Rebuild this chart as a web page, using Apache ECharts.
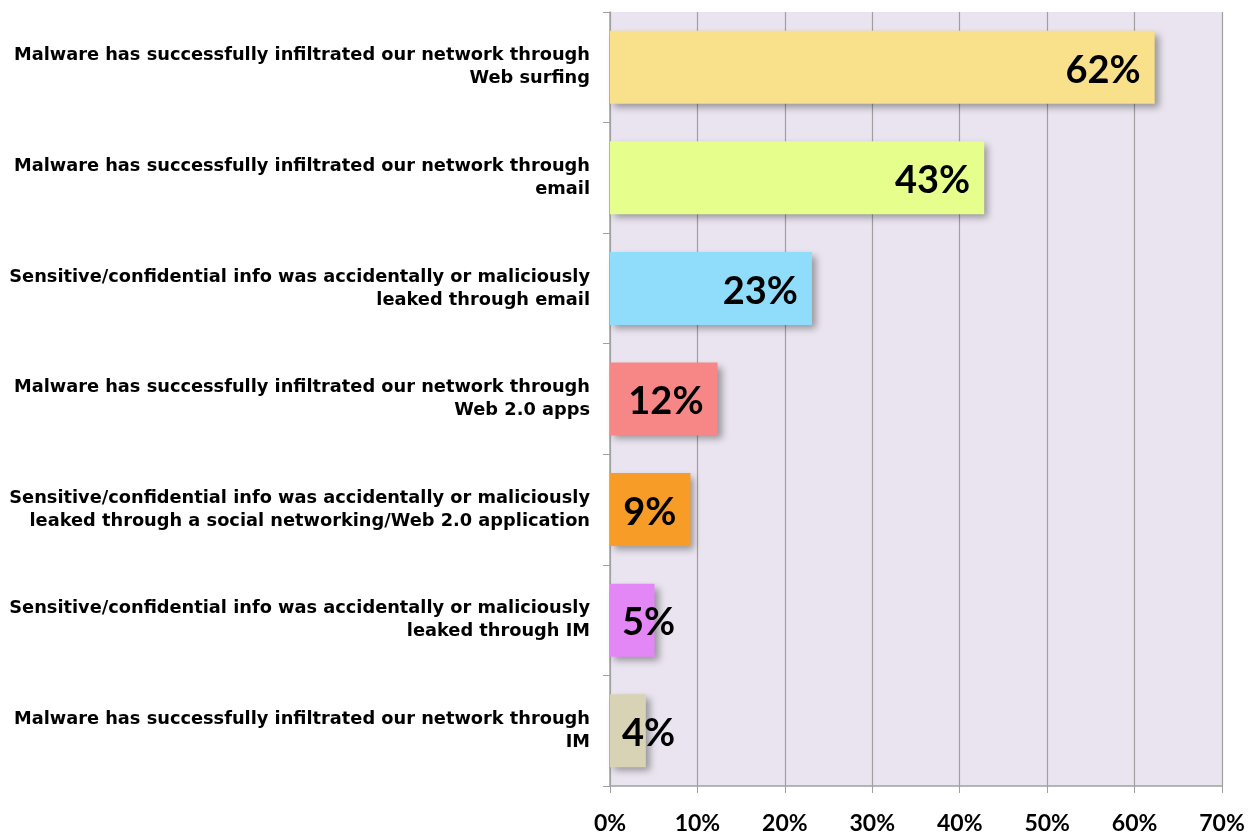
<!DOCTYPE html>
<html><head><meta charset="utf-8">
<script src="https://cdn.jsdelivr.net/npm/echarts@6/dist/echarts.min.js"></script>
<style>html,body{margin:0;padding:0;background:#fff}#c{width:1253px;height:835px}</style>
</head><body><div id="c"></div>
<script>
const categories = [
  "Malware has successfully infiltrated our network through\nWeb surfing",
  "Malware has successfully infiltrated our network through\nemail",
  "Sensitive/confidential info was accidentally or maliciously\nleaked through email",
  "Malware has successfully infiltrated our network through\nWeb 2.0 apps",
  "Sensitive/confidential info was accidentally or maliciously\nleaked through a social networking/Web 2.0 application",
  "Sensitive/confidential info was accidentally or maliciously\nleaked through IM",
  "Malware has successfully infiltrated our network through\nIM"
];
const values = [62.3, 42.8, 23.1, 12.3, 9.2, 5.1, 4.1];
const valueLabels = ["62%", "43%", "23%", "12%", "9%", "5%", "4%"];
const barColors = ["#F9E08A", "#E6FE8C", "#8FDDFA", "#F78686", "#F79C26", "#E487F6", "#D8D3B4"];
const xTicks = [0, 10, 20, 30, 40, 50, 60, 70];

const chart = echarts.init(document.getElementById('c'));
chart.setOption({
  animation: false,
  grid: {left: 610, right: 31, top: 12, bottom: 47, show: true, backgroundColor: '#E9E4EF', borderWidth: 0},
  xAxis: {
    type: 'value', min: 0, max: 70, interval: 10,
    axisLine: {show: true, lineStyle: {color: '#A0A0A0', width: 1.5}},
    axisTick: {show: true, length: 7, lineStyle: {color: '#A0A0A0'}},
    splitLine: {show: true, lineStyle: {color: '#A0A0A0', width: 1.2}},
    axisLabel: {formatter: v => v + '%', fontFamily: 'Lato', fontWeight: 'bold', fontSize: 23, color: '#000', margin: 26}
  },
  yAxis: {
    type: 'category', data: categories, inverse: true,
    axisLine: {show: true, lineStyle: {color: '#A0A0A0', width: 1.5}},
    axisTick: {show: true, length: 7, lineStyle: {color: '#A0A0A0'}},
    axisLabel: {fontFamily: '"DejaVu Sans"', fontWeight: 'bold', fontSize: 17.8, color: '#000', margin: 20, lineHeight: 23, align: 'right', padding: [7, 0, 0, 0]}
  },
  series: [{
    type: 'bar', barWidth: '66%',
    data: values.map((v, i) => ({
      value: v,
      itemStyle: {color: barColors[i]},
      label: v < 8 ? {position: 'insideLeft', distance: 12} : {position: 'insideRight', distance: 14}
    })),
    itemStyle: {shadowBlur: 7, shadowOffsetX: 4, shadowOffsetY: 4, shadowColor: 'rgba(0,0,0,0.35)'},
    label: {show: true, formatter: p => valueLabels[p.dataIndex], fontFamily: 'Lato', fontWeight: 'bold', fontSize: 38, color: '#000', offset: [0, 3]}
  }]
});
</script></body></html>
